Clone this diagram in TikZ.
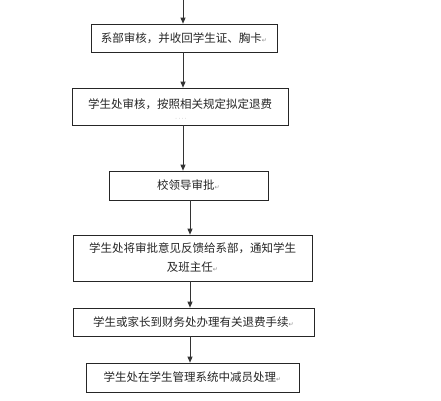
\documentclass[tikz,border=0pt]{standalone}
\usepackage{fontspec}
\newfontfamily\cjk{Noto Sans CJK SC}
\newfontfamily\sym{DejaVu Sans}
\usetikzlibrary{arrows.meta}
\tikzset{
  box/.style={draw=black!85, line width=0.7pt, rectangle, inner sep=0pt, font=\cjk\fontsize{11.5}{19}\selectfont, text=black!85},
  arr/.style={draw=black!80, line width=0.7pt, -{Triangle[length=6pt,width=5pt]}},
  txt/.style={inner sep=0pt, font=\cjk\fontsize{11.5}{19}\selectfont, text=black!85},
}
\newcommand{\ret}{{\sym\fontsize{6}{6}\selectfont\color{black!45}↵}}
\begin{document}
\begin{tikzpicture}[x=1pt,y=-1pt]
\useasboundingbox (0,0) rectangle (441,400);
\fill[white] (0,0) rectangle (441,400);
\coordinate (top) at (183,0);
\coordinate (col) at (190,0);
\node[box, minimum width=186pt, minimum height=28pt] (b1) at (184,38) {系部审核，并收回学生证、胸卡\ret};
\node[box, minimum width=216pt, minimum height=37pt] (b2) at (180,106.5) {};
\node[txt] (t2) at (180,104) {学生处审核，按照相关规定拟定退费};
\node[txt, font=\sym\fontsize{5}{5}\selectfont, text=black!35] (d2) at (181,119) {· · · ·};
\node[box, minimum width=159pt, minimum height=29pt] (b3) at (188.5,185.5) {校领导审批\ret};
\node[box, minimum width=239pt, minimum height=46pt, align=center] (b4) at (192.5,258) {学生处将审批意见反馈给系部，通知学生\\及班主任\ret};
\node[box, minimum width=241pt, minimum height=28pt] (b5) at (193.5,322) {学生或家长到财务处办理有关退费手续\ret};
\node[box, minimum width=213pt, minimum height=29pt] (b6) at (192.5,377.5) {学生处在学生管理系统中减员处理\ret};
\draw[arr] (top) -- (b1.north -| top);
\draw[arr] (b1.south -| top) -- (b2.north -| top);
\draw[arr] (b2.south -| top) -- (b3.north -| top);
\draw[arr] (b3.south -| col) -- (b4.north -| col);
\draw[arr] (b4.south -| col) -- (b5.north -| col);
\draw[arr] (b5.south -| col) -- (b6.north -| col);
\end{tikzpicture}
\end{document}
